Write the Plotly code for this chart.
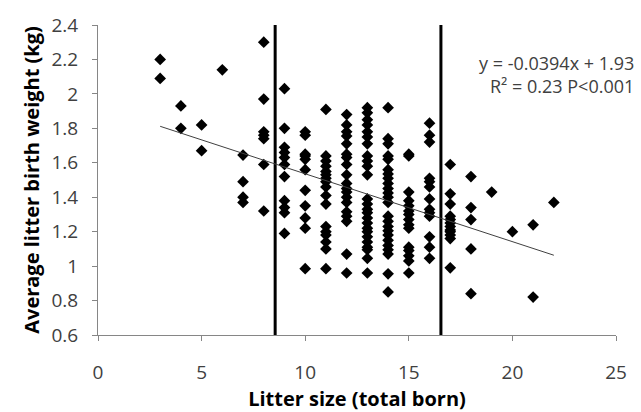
import plotly.graph_objects as go

# Litter size columns and average litter birth weights (kg)
litter_sizes = [3, 4, 5, 6, 7, 8, 9, 10, 11, 12, 13, 14, 15, 16, 17, 18, 19, 20, 21, 22]
weights_by_size = {
    3: [2.20, 2.09],
    4: [1.93, 1.80],
    5: [1.82, 1.67],
    6: [2.14],
    7: [1.645, 1.49, 1.40, 1.37],
    8: [2.30, 1.97, 1.78, 1.76, 1.74, 1.59, 1.32],
    9: [2.03, 1.80, 1.69, 1.66, 1.63, 1.59, 1.52, 1.38, 1.34, 1.31, 1.19],
    10: [1.78, 1.76, 1.65, 1.64, 1.62, 1.56, 1.44, 1.35, 1.28, 1.22, 0.985],
    11: [1.91, 1.64, 1.61, 1.58, 1.55, 1.53, 1.51, 1.49, 1.46, 1.41, 1.36, 1.23, 1.20, 1.18, 1.14, 1.10, 0.985],
    12: [1.88, 1.82, 1.78, 1.755, 1.71, 1.65, 1.63, 1.59, 1.53, 1.48, 1.45, 1.43, 1.40, 1.37, 1.315, 1.29, 1.26, 1.07, 0.96],
    13: [1.92, 1.89, 1.85, 1.82, 1.78, 1.75, 1.71, 1.64, 1.61, 1.58, 1.53, 1.39, 1.36, 1.33, 1.31, 1.28, 1.25, 1.22, 1.20, 1.17, 1.14, 1.11, 1.095, 1.045, 0.96],
    14: [1.92, 1.74, 1.71, 1.64, 1.62, 1.56, 1.535, 1.51, 1.48, 1.45, 1.425, 1.40, 1.37, 1.29, 1.26, 1.23, 1.205, 1.18, 1.15, 1.12, 1.095, 1.07, 0.955, 0.85],
    15: [1.65, 1.64, 1.43, 1.38, 1.35, 1.32, 1.30, 1.27, 1.24, 1.22, 1.11, 1.09, 1.06, 1.03, 0.96],
    16: [1.83, 1.76, 1.72, 1.51, 1.49, 1.46, 1.39, 1.33, 1.31, 1.29, 1.17, 1.11, 1.045],
    17: [1.59, 1.42, 1.36, 1.29, 1.27, 1.25, 1.23, 1.21, 1.20, 1.18, 1.16, 0.99],
    18: [1.52, 1.34, 1.27, 1.10, 0.84],
    19: [1.43],
    20: [1.20],
    21: [1.24, 0.82],
    22: [1.37],
}

# Regression
slope = -0.0394
intercept = 1.93
fit_range = [3, 22]

# Vertical cut-off lines
cutoffs = [8.55, 16.55]

x_ticks = [0, 5, 10, 15, 20, 25]
y_ticks = [0.6, 0.8, 1.0, 1.2, 1.4, 1.6, 1.8, 2.0, 2.2, 2.4]
y_tick_labels = ["0.6", "0.8", "1", "1.2", "1.4", "1.6", "1.8", "2", "2.2", "2.4"]

xs, ys = [], []
for s in litter_sizes:
    for w in weights_by_size[s]:
        xs.append(s)
        ys.append(w)

FONT = "Open Sans"
fig = go.Figure()

for c in cutoffs:
    fig.add_trace(go.Scatter(x=[c, c], y=[0.6, 2.4], mode="lines",
                             line=dict(color="black", width=3), hoverinfo="skip"))

fig.add_trace(go.Scatter(x=xs, y=ys, mode="markers",
                         marker=dict(symbol="diamond", size=9, color="black")))

fig.add_trace(go.Scatter(x=fit_range, y=[slope * v + intercept for v in fit_range],
                         mode="lines", line=dict(color="#404040", width=1)))

axis_common = dict(showline=True, linecolor="#868686", linewidth=1, ticks="outside",
                   tickcolor="#868686", ticklen=5, showgrid=False, zeroline=False,
                   tickfont=dict(family=FONT, size=19, color="#404040"))

fig.update_layout(
    width=641, height=412,
    margin=dict(l=98, r=25, t=19, b=66),
    plot_bgcolor="white", paper_bgcolor="white",
    showlegend=False,
    xaxis=dict(range=[0, 25], tickvals=x_ticks, ticklabelstandoff=15, **axis_common,
               title=dict(text="<b>Litter size (total born)</b>", standoff=1,
                          font=dict(family=FONT, size=20, color="black"))),
    yaxis=dict(range=[0.6, 2.4], tickvals=y_ticks, ticktext=y_tick_labels,
               ticklabelstandoff=10, **axis_common,
               title=dict(text="<b>Average litter birth weight (kg)</b>", standoff=6,
                          font=dict(family=FONT, size=20, color="black"))),
    annotations=[
        dict(text="y = -0.0394x + 1.93", xref="paper", yref="paper", x=1.039, y=0.879,
             xanchor="right", yanchor="middle", showarrow=False,
             font=dict(family=FONT, size=18, color="#404040")),
        dict(text="R² = 0.23 P<0.001", xref="paper", yref="paper", x=1.039, y=0.802,
             xanchor="right", yanchor="middle", showarrow=False,
             font=dict(family=FONT, size=18, color="#404040")),
    ],
)

fig.write_html("out.html", config={"displayModeBar": False},
               post_script="document.body.style.margin='0';")
